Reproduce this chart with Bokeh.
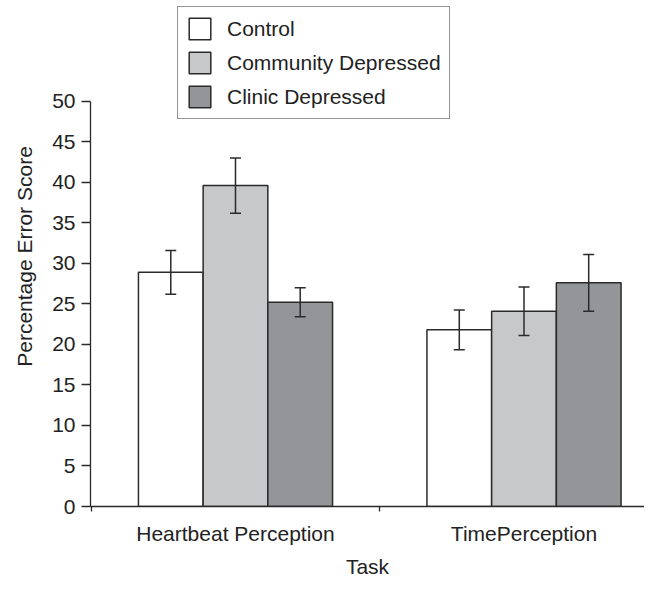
from bokeh.plotting import figure
from bokeh.models import (ColumnDataSource, Range1d, FixedTicker, Whisker, TeeHead,
                          Legend, LegendItem)
from bokeh.embed import file_html
from bokeh.resources import INLINE

# ---- data ----
tasks = ["Heartbeat Perception", "TimePerception"]
groups = ["Control", "Community Depressed", "Clinic Depressed"]
control = [28.9, 21.8]
control_err = [2.7, 2.45]
community = [39.6, 24.1]
community_err = [3.4, 3.0]
clinic = [25.2, 27.6]
clinic_err = [1.8, 3.5]
y_ticks = [0, 5, 10, 15, 20, 25, 30, 35, 40, 45, 50]

series = [control, community, clinic]
errors = [control_err, community_err, clinic_err]
colors = ["#ffffff", "#c7c8ca", "#949598"]

FONT = "Liberation Sans"
TXT = "#222222"
LINE = "#2a2a2a"
BW = 0.2243

p = figure(width=644, height=580, output_backend="svg", toolbar_location=None,
           x_range=Range1d(-0.5026, 1.4177), y_range=Range1d(0, 61.7),
           min_border_left=90, min_border_right=0, min_border_top=6,
           min_border_bottom=73)
p.outline_line_color = None
p.xgrid.visible = False
p.ygrid.visible = False
p.background_fill_color = "white"
p.border_fill_color = "white"

items = []
for i, (vals, errs, col, name) in enumerate(zip(series, errors, colors, groups)):
    xs = [k + (i - 1) * BW for k in range(len(tasks))]
    src = ColumnDataSource(dict(x=xs, top=vals,
                                upper=[v + e for v, e in zip(vals, errs)],
                                lower=[v - e for v, e in zip(vals, errs)]))
    r = p.vbar(x="x", top="top", bottom=0, width=BW, source=src,
               fill_color=col, line_color=LINE, line_width=1.5)
    items.append(LegendItem(label=name, renderers=[r]))
    w = Whisker(base="x", upper="upper", lower="lower", source=src,
                dimension="height", line_color=LINE, line_width=1.5,
                upper_head=TeeHead(size=11, line_color=LINE, line_width=1.5),
                lower_head=TeeHead(size=11, line_color=LINE, line_width=1.5))
    w.level = "overlay"
    p.add_layout(w)

# y axis
yax = p.yaxis[0]
yax.ticker = FixedTicker(ticks=y_ticks, minor_ticks=[])
yax.bounds = (0, 50)
yax.axis_label = "Percentage Error Score"
yax.axis_line_color = LINE
yax.axis_line_width = 1.3
yax.major_tick_line_color = LINE
yax.major_tick_line_width = 1.3
yax.major_tick_out = 9
yax.major_tick_in = 0
yax.minor_tick_line_color = None
yax.major_label_standoff = 6
yax.axis_label_standoff = 13

# x axis
xax = p.xaxis[0]
xax.ticker = FixedTicker(ticks=list(range(len(tasks))), minor_ticks=[-0.5, 0.5, 1.5])
xax.major_label_overrides = {k: t for k, t in enumerate(tasks)}
xax.axis_label = "Task"
xax.axis_line_color = LINE
xax.axis_line_width = 1.3
xax.major_tick_line_color = None
xax.major_tick_out = 0
xax.major_tick_in = 0
xax.minor_tick_line_color = LINE
xax.minor_tick_line_width = 1.3
xax.minor_tick_out = 5
xax.minor_tick_in = 0
xax.major_label_standoff = 10
xax.axis_label_standoff = 7

for ax in (xax, yax):
    ax.major_label_text_font = FONT
    ax.major_label_text_font_size = "21px"
    ax.major_label_text_color = TXT
    ax.axis_label_text_font = FONT
    ax.axis_label_text_font_size = "21px"
    ax.axis_label_text_font_style = "normal"
    ax.axis_label_text_color = TXT

legend = Legend(items=items, location=(87, 387), orientation="vertical",
                border_line_color=LINE, border_line_width=1.3,
                padding=8, margin=0, spacing=7,
                glyph_width=27, glyph_height=27, label_height=27,
                label_standoff=14,
                label_text_font=FONT, label_text_font_size="21px",
                label_text_color=TXT, background_fill_alpha=1.0)
p.add_layout(legend, "center")

open("out.html", "w").write(file_html(p, INLINE))
